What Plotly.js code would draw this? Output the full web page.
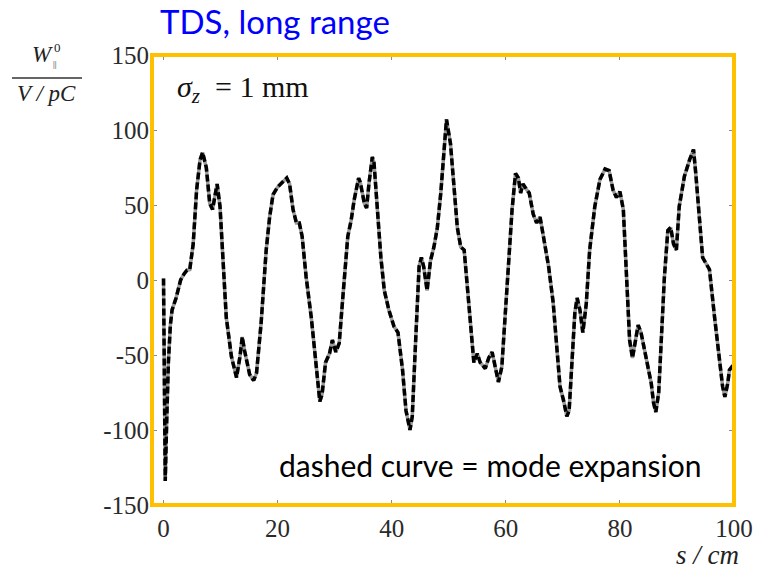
<!DOCTYPE html>
<html>
<head>
<meta charset="utf-8">
<script src="https://cdn.plot.ly/plotly-3.0.1.min.js"></script>
<style>
  html, body { margin: 0; padding: 0; background: #fff; }
  #chart { width: 760px; height: 571px; }
</style>
</head>
<body>
<div id="chart"></div>
<script>
// Position along the structure s (cm)
const s = [
  0, 0.15, 0.3, 0.55, 0.85, 1.2, 1.5, 2.2, 3.0, 3.6, 4.1, 4.6, 5.2, 5.8, 6.4, 6.85, 7.5, 8.1, 8.6, 9.2,
  9.4, 9.9, 10.4, 11.0, 11.9, 12.8, 13.4, 13.8, 14.2, 15.1, 15.8, 16.3, 17.1, 18.0, 18.6, 19.2, 20.0, 20.9, 21.6, 22.1,
  22.7, 23.3, 23.8, 24.3, 25.0, 25.9, 26.4, 27.0, 27.4, 27.8, 28.4, 29.1, 29.6, 30.2, 30.8, 31.4, 32.3, 32.9, 33.4, 34.2,
  34.5, 35.2, 35.6, 36.0, 36.6, 36.9, 37.5, 38.1, 38.7, 39.5, 40.4, 41.1, 41.9, 42.5, 43.2, 43.6, 44.2, 44.8, 45.2, 45.6,
  46.2, 46.8, 47.4, 48.0, 48.6, 49.0, 49.6, 50.3, 50.9, 51.5, 52.1, 52.7, 53.2, 53.8, 54.4, 55.0, 55.5, 56.4, 57.0, 57.6,
  58.0, 58.7, 59.3, 59.9, 60.5, 61.1, 61.7, 62.2, 62.6, 63.0, 63.7, 64.1, 64.8, 65.4, 66.0, 66.6, 67.5, 68.3, 68.9, 69.5,
  70.1, 70.7, 71.1, 71.5, 72.1, 72.5, 73.0, 73.5, 74.1, 74.7, 75.2, 75.6, 76.5, 77.4, 78.1, 78.8, 79.4, 80.0, 80.6, 81.1,
  81.7, 82.2, 82.6, 83.2, 83.7, 84.6, 85.5, 85.9, 86.3, 86.8, 87.2, 87.8, 88.4, 88.9, 89.4, 89.9, 90.4, 91.3, 92.2, 92.9,
  93.3, 93.8, 94.5, 95.1, 95.7, 96.6, 97.4, 98.0, 98.4, 98.9, 99.2, 99.8
];
// Longitudinal wake W (V/pC)
const wake = [
  1, -70, -134, -95, -55, -30, -20, -12, 0, 4, 6.5, 7, 24, 60, 80, 85, 75, 51, 47, 60,
  64, 49, 15, -25, -51, -65, -51, -38, -47, -63, -67, -62, -29, 20, 42, 57, 62, 65, 68, 64,
  47, 38, 38, 29, 2, -25, -42, -67, -81, -76, -55, -49, -40, -48, -42, -13, 29, 40, 53, 68,
  65, 51, 48, 64, 82, 78, 47, 15, -7, -20, -31, -35, -60, -87, -100, -91, -40, 9, 15, 9,
  -7, 13, 22, 35, 58, 78, 107, 91, 64, 35, 22, 20, -2, -31, -55, -49, -55, -59, -52, -48,
  -55, -68, -58, -20, 15, 47, 71, 68, 58, 64, 60, 58, 44, 38, 42, 29, 9, -15, -47, -71,
  -80, -91, -87, -60, -22, -12, -20, -35, -16, 20, 36, 49, 67, 74, 73, 60, 55, 59, 47, 9,
  -40, -52, -43, -30, -35, -53, -69, -82, -88, -75, -40, 2, 33, 35, 24, 20, 49, 69, 80, 87,
  71, 49, 15, 11, 7, -25, -53, -71, -78, -69, -60, -57
];
const xTickVals = [0, 20, 40, 60, 80, 100];
const xTickText = ["0", "20", "40", "60", "80", "100"];
const yTickVals = [-150, -100, -50, 0, 50, 100, 150];
const yTickText = ["-150", "-100", "-50", "0", "50", "100", "150"];

// pixel helpers for paper placement of annotations (plot area 152..734 x 55..505)
const L = 152, R = 734, T = 55, B = 505;
const px = X => (X - L) / (R - L);
const py = Y => (B - Y) / (B - T);

const serif = "Liberation Serif";
const sans = "Lato";

const traces = [
  { x: s, y: wake, type: "scatter", mode: "lines", line: { color: "#9a9a9a", width: 3.5 }, hoverinfo: "skip" },
  { x: s, y: wake, type: "scatter", mode: "lines", line: { color: "#000", width: 3.5, dash: "7px,3px" }, hoverinfo: "skip" }
];

function axisBase() {
  return {
    showgrid: false, zeroline: false, showline: false,
    ticks: "inside", ticklen: 5, tickwidth: 1, tickcolor: "#8a8a8a",
    mirror: "ticks",
    tickfont: { family: serif, size: 25, color: "#2a2a2a" },
    tickmode: "array"
  };
}

const layout = {
  width: 760, height: 571,
  margin: { l: L, r: 760 - R, t: T, b: 571 - B },
  paper_bgcolor: "#fff", plot_bgcolor: "#fff",
  font: { family: serif, color: "#222" },
  showlegend: false,
  title: {
    text: "TDS, long range",
    font: { family: sans, size: 33, color: "#0000FF" },
    xref: "container", yref: "container",
    x: 160 / 760, xanchor: "left",
    y: 1 - 22 / 571, yanchor: "middle"
  },
  xaxis: Object.assign(axisBase(), {
    range: [-2.02, 100], tickvals: xTickVals, ticktext: xTickText, ticklabelstandoff: 6
  }),
  yaxis: Object.assign(axisBase(), {
    range: [-150, 150], tickvals: yTickVals, ticktext: yTickText, ticklabelstandoff: 2
  }),
  shapes: [
    { type: "rect", xref: "paper", yref: "paper", x0: 0, x1: 1, y0: 0, y1: 1,
      line: { color: "#FFC000", width: 4 }, layer: "above" },
    { type: "line", xref: "paper", yref: "paper", x0: px(12), x1: px(82), y0: py(78), y1: py(78),
      line: { color: "#333", width: 1.5 } }
  ],
  annotations: [
    { xref: "paper", yref: "paper", x: px(175), y: py(89), xanchor: "left", yanchor: "middle",
      text: "<i>σ</i><sub><i>z</i></sub>&nbsp;&nbsp;=&nbsp;1&nbsp;mm", showarrow: false,
      font: { family: serif, size: 30, color: "#111" } },
    { xref: "paper", yref: "paper", x: px(277), y: py(465), xanchor: "left", yanchor: "middle",
      text: "dashed curve = mode expansion", showarrow: false,
      font: { family: sans, size: 30, color: "#000" } },
    { xref: "paper", yref: "paper", x: px(707), y: py(555), xanchor: "center", yanchor: "middle",
      text: "<i>s / cm</i>", showarrow: false,
      font: { family: serif, size: 27, color: "#222" } },
    { xref: "paper", yref: "paper", x: px(42), y: py(54), xanchor: "center", yanchor: "middle",
      text: "<i>W</i>", showarrow: false,
      font: { family: serif, size: 23, color: "#222" } },
    { xref: "paper", yref: "paper", x: px(57), y: py(47), xanchor: "center", yanchor: "middle",
      text: "0", showarrow: false,
      font: { family: serif, size: 13, color: "#222" } },
    { xref: "paper", yref: "paper", x: px(55), y: py(64), xanchor: "center", yanchor: "middle",
      text: "||", showarrow: false,
      font: { family: serif, size: 9, color: "#222" } },
    { xref: "paper", yref: "paper", x: px(46), y: py(93), xanchor: "center", yanchor: "middle",
      text: "<i>V / pC</i>", showarrow: false,
      font: { family: serif, size: 23, color: "#222" } }
  ]
};

Plotly.newPlot("chart", traces, layout, { staticPlot: true, displayModeBar: false });
</script>
</body>
</html>
